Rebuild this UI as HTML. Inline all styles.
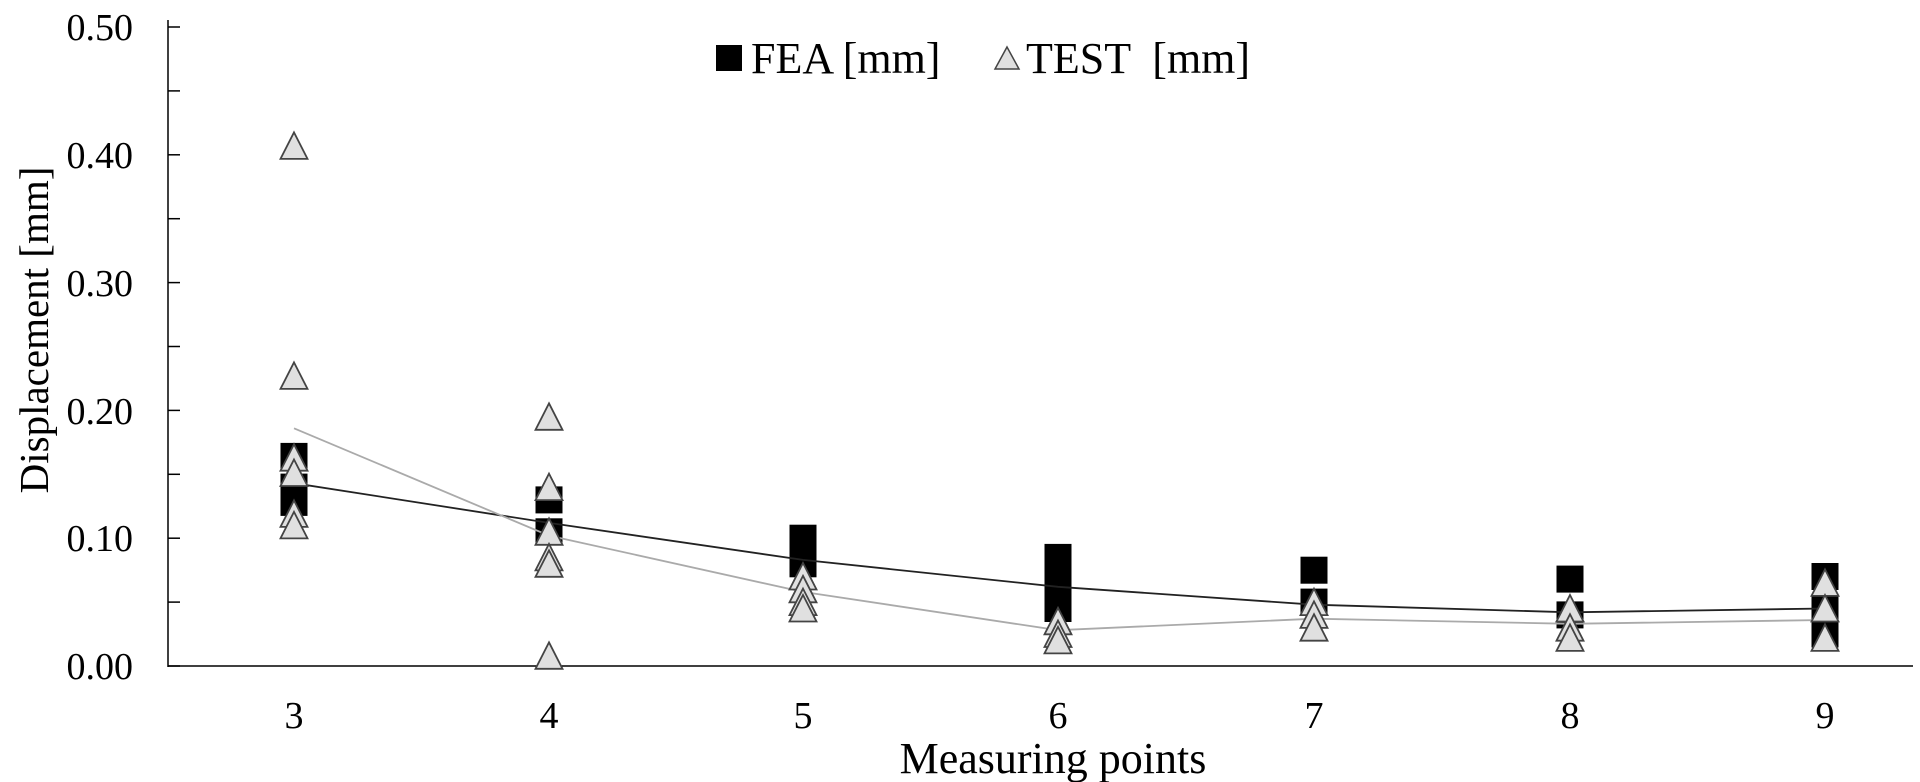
<!DOCTYPE html>
<html><head><meta charset="utf-8"><style>
html,body{margin:0;padding:0;background:#fff;}
svg{display:block;font-family:"Liberation Serif",serif;}
</style></head><body>
<svg width="1920" height="782" viewBox="0 0 1920 782" xmlns="http://www.w3.org/2000/svg" xmlns:xlink="http://www.w3.org/1999/xlink">
<defs>
<rect id="sq" x="-13.5" y="-13.5" width="27" height="27" fill="#000"/>
<polygon id="tr" points="0,-13.5 13.5,13 -13.5,13" fill="#e0e0e0" stroke="#444" stroke-width="1.8"/>
</defs>
<g stroke="#000" stroke-width="1.5">
<line x1="168" y1="20" x2="168" y2="667"/>
<line x1="168" y1="666" x2="1913" y2="666"/>
<line x1="168" x2="180" y1="666" y2="666"/>
<line x1="168" x2="180" y1="602.1" y2="602.1"/>
<line x1="168" x2="180" y1="538.2" y2="538.2"/>
<line x1="168" x2="180" y1="474.3" y2="474.3"/>
<line x1="168" x2="180" y1="410.4" y2="410.4"/>
<line x1="168" x2="180" y1="346.5" y2="346.5"/>
<line x1="168" x2="180" y1="282.6" y2="282.6"/>
<line x1="168" x2="180" y1="218.7" y2="218.7"/>
<line x1="168" x2="180" y1="154.8" y2="154.8"/>
<line x1="168" x2="180" y1="90.9" y2="90.9"/>
<line x1="168" x2="180" y1="27" y2="27"/>
</g>
<g font-size="38" text-anchor="end" fill="#000">
<text x="133" y="40">0.50</text>
<text x="133" y="168">0.40</text>
<text x="133" y="296">0.30</text>
<text x="133" y="424">0.20</text>
<text x="133" y="551">0.10</text>
<text x="133" y="679">0.00</text>
</g>
<g font-size="38" text-anchor="middle" fill="#000">
<text x="294" y="728">3</text>
<text x="549" y="728">4</text>
<text x="803" y="728">5</text>
<text x="1058" y="728">6</text>
<text x="1314" y="728">7</text>
<text x="1570" y="728">8</text>
<text x="1825" y="728">9</text>
<text x="1053" y="773" font-size="44">Measuring points</text>
<text transform="translate(48,330) rotate(-90)" font-size="41">Displacement [mm]</text>
</g>
<rect x="716" y="45" width="26" height="26" fill="#000"/>
<text x="751" y="73" font-size="44">FEA [mm]</text>
<polygon points="1007,47 1019,69 995,69" fill="#e0e0e0" stroke="#444" stroke-width="1.5"/>
<text x="1026" y="73" font-size="44" xml:space="preserve">TEST  [mm]</text>

<g>
<use xlink:href="#sq" x="294" y="456.4"/><use xlink:href="#sq" x="294" y="502.4"/><use xlink:href="#sq" x="294" y="487.1"/>
<use xlink:href="#sq" x="549" y="499.9"/><use xlink:href="#sq" x="549" y="531.8"/>
<use xlink:href="#sq" x="803" y="538.2"/><use xlink:href="#sq" x="803" y="563.8"/>
<use xlink:href="#sq" x="1058" y="557.4"/><use xlink:href="#sq" x="1058" y="582.9"/><use xlink:href="#sq" x="1058" y="608.5"/>
<use xlink:href="#sq" x="1314" y="570.2"/><use xlink:href="#sq" x="1314" y="602.1"/>
<use xlink:href="#sq" x="1570" y="579.1"/><use xlink:href="#sq" x="1570" y="614.9"/>
<use xlink:href="#sq" x="1825" y="576.5"/><use xlink:href="#sq" x="1825" y="608.5"/><use xlink:href="#sq" x="1825" y="634"/>
</g>
<polyline points="294,483.2 549,522.9 803,559.9 1058,586.8 1314,604.7 1570,612.3 1825,608.5" fill="none" stroke="#222" stroke-width="1.8"/>
<polyline points="294,428.3 549,535.6 803,591.9 1058,630.2 1314,618.7 1570,623.8 1825,620" fill="none" stroke="#aaa" stroke-width="1.8"/>
<g>
<use xlink:href="#tr" x="294" y="145.9"/><use xlink:href="#tr" x="294" y="375.9"/><use xlink:href="#tr" x="294" y="457.7"/><use xlink:href="#tr" x="294" y="473"/><use xlink:href="#tr" x="294" y="513.9"/><use xlink:href="#tr" x="294" y="525.4"/>
<use xlink:href="#tr" x="549" y="416.8"/><use xlink:href="#tr" x="549" y="487.1"/><use xlink:href="#tr" x="549" y="531.8"/><use xlink:href="#tr" x="549" y="557.4"/><use xlink:href="#tr" x="549" y="563.8"/><use xlink:href="#tr" x="549" y="655.8"/>
<use xlink:href="#tr" x="803" y="576.5"/><use xlink:href="#tr" x="803" y="589.3"/><use xlink:href="#tr" x="803" y="602.1"/><use xlink:href="#tr" x="803" y="608.5"/>
<use xlink:href="#tr" x="1058" y="621.3"/><use xlink:href="#tr" x="1058" y="634"/><use xlink:href="#tr" x="1058" y="640.4"/>
<use xlink:href="#tr" x="1314" y="602.1"/><use xlink:href="#tr" x="1314" y="614.9"/><use xlink:href="#tr" x="1314" y="627.7"/>
<use xlink:href="#tr" x="1570" y="608.5"/><use xlink:href="#tr" x="1570" y="627.7"/><use xlink:href="#tr" x="1570" y="637.9"/>
<use xlink:href="#tr" x="1825" y="582.9"/><use xlink:href="#tr" x="1825" y="608.5"/><use xlink:href="#tr" x="1825" y="637.9"/>
</g>
</svg>
</body></html>
